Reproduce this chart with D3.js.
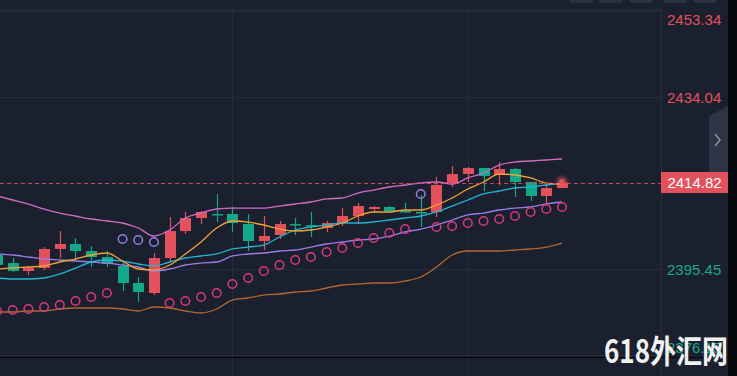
<!DOCTYPE html>
<html>
<head>
<meta charset="utf-8">
<style>
body { margin: 0; background: #1b202e; overflow: hidden; }
svg { display: block; }
.grid { stroke: #262c3b; stroke-width: 1; shape-rendering: crispEdges; }
.axisLabel { font-family: "Liberation Sans", Arial, sans-serif; font-size: 15px; }
</style>
</head>
<body>
<svg id="chart" width="737" height="376"></svg>
<script src="https://d3js.org/d3.v7.min.js"></script>
<script>
// candles (red = up, green = down)
let openP  = [2398.59,2396.79,2395.00,2395.67,2399.94,2401.06,2399.49,2398.14,2396.12,2392.31,2390.06,2397.92,2403.97,2406.89,2407.79,2407.79,2405.55,2401.73,2403.08,2405.55,2405.32,2404.65,2405.77,2407.34,2408.91,2409.36,2408.46,2408.24,2408.24,2414.52,2416.76,2418.11,2416.54,2417.89,2414.97,2411.83,2413.62];
let highP  = [2399.71,2397.92,2395.90,2400.38,2403.97,2402.40,2400.61,2399.49,2397.02,2393.65,2399.04,2407.12,2408.24,2408.46,2412.28,2409.36,2407.79,2407.34,2406.22,2406.89,2408.24,2406.22,2409.13,2410.26,2409.58,2409.58,2410.26,2412.05,2416.09,2418.56,2418.35,2418.11,2419.46,2418.11,2414.97,2414.74,2415.19];
let lowP   = [2395.67,2394.80,2394.10,2395.22,2397.92,2397.47,2395.90,2395.90,2390.51,2388.04,2389.61,2397.24,2403.30,2405.55,2405.99,2403.75,2399.49,2399.71,2402.18,2403.08,2402.63,2403.75,2405.10,2405.55,2408.24,2408.01,2408.01,2404.87,2407.12,2413.85,2414.97,2412.95,2414.30,2411.60,2410.71,2410.26,2413.62];
let closeP = [2396.35,2395.00,2395.67,2399.94,2401.06,2399.49,2398.14,2396.57,2392.31,2390.29,2397.92,2403.97,2406.89,2408.24,2407.57,2405.77,2401.73,2402.85,2405.55,2405.40,2405.15,2405.77,2407.34,2409.58,2409.36,2408.46,2408.35,2408.10,2414.30,2416.76,2418.11,2416.31,2417.89,2414.97,2411.83,2413.62,2414.82];

// indicator lines
let upperBand = [2411.83,2410.93,2410.03,2408.91,2408.01,2407.34,2406.67,2406.22,2405.77,2404.65,2402.85,2404.20,2406.89,2408.01,2408.91,2409.13,2409.13,2409.13,2409.58,2410.03,2410.48,2411.16,2411.38,2412.50,2413.17,2413.85,2414.30,2414.74,2414.97,2414.52,2415.87,2416.99,2418.78,2419.46,2419.68,2419.91,2420.13];
let midBand   = [2398.82,2398.59,2398.14,2397.69,2397.47,2397.24,2397.02,2396.79,2396.35,2395.90,2395.00,2395.45,2396.35,2396.79,2397.02,2398.37,2398.82,2399.04,2399.49,2399.71,2400.38,2401.06,2401.51,2401.96,2402.18,2402.85,2403.75,2404.42,2405.32,2406.44,2407.57,2408.01,2408.69,2409.13,2409.36,2410.03,2410.48];
let lowerBand = [2385.80,2385.80,2386.03,2386.03,2386.48,2386.70,2386.70,2386.70,2386.48,2386.03,2386.92,2386.70,2386.03,2385.58,2386.48,2388.49,2388.94,2389.61,2389.84,2390.29,2390.51,2391.19,2391.86,2392.08,2392.31,2392.31,2392.76,2393.65,2395.90,2398.59,2399.49,2399.49,2399.49,2399.71,2399.94,2400.38,2401.28];
let maFast    = [2395.45,2395.67,2395.90,2396.12,2397.02,2397.69,2398.59,2399.04,2397.24,2395.45,2395.22,2396.35,2398.82,2401.51,2404.65,2406.22,2405.99,2405.32,2404.42,2403.98,2404.20,2404.87,2405.77,2407.34,2408.24,2408.24,2408.69,2408.69,2409.81,2411.38,2413.40,2414.97,2416.76,2416.54,2415.87,2414.74,2414.52];
let maSlow    = [2393.43,2393.21,2393.21,2393.43,2394.33,2395.67,2397.02,2397.47,2397.24,2396.57,2396.12,2397.02,2397.92,2398.37,2398.82,2399.94,2400.38,2400.83,2402.63,2404.20,2404.87,2405.32,2405.77,2405.77,2405.99,2406.44,2406.89,2407.34,2408.24,2409.58,2410.93,2412.28,2412.95,2413.62,2413.85,2414.30,2414.74];
let sarValues = [2386.03,2386.25,2386.48,2386.92,2387.37,2388.27,2389.17,2390.06,2402.18,2401.96,2401.51,2387.82,2388.27,2389.17,2390.06,2392.08,2393.43,2395.00,2396.35,2397.47,2398.14,2399.26,2400.16,2401.28,2402.40,2403.53,2404.42,2412.28,2404.87,2405.10,2405.77,2406.22,2406.67,2407.34,2408.24,2408.91,2409.36];

let priceTicks = [2453.34, 2434.04, 2414.82, 2395.45, 2376.15];
let lastPrice = 2414.82;
let timeGridIdx = [15, 30];

const W = 737, H = 376;
const plotRight = 661, plotTop = 9, plotBottom = 357;
const red = "#e2515c", green = "#14a88a";

let svg = d3.select("#chart");
svg.append("rect").attr("width", W).attr("height", H).attr("fill", "#1b202e");

let xScale = d3.scalePoint()
    .domain(d3.range(closeP.length))
    .range([-3, 562]);
let yScale = d3.scaleLinear()
    .domain([2395.45, 2434.04])
    .range([269, 97]);

// grid
svg.append("line").attr("class", "grid")
    .attr("x1", 0).attr("x2", plotRight).attr("y1", plotTop + 0.5).attr("y2", plotTop + 0.5);
svg.selectAll(".hgrid")
    .data(priceTicks.filter(d => d !== lastPrice))
    .join("line")
    .attr("class", "grid hgrid")
    .attr("x1", 0).attr("x2", plotRight)
    .attr("y1", d => Math.round(yScale(d)) + 0.5)
    .attr("y2", d => Math.round(yScale(d)) + 0.5);
svg.selectAll(".vgrid")
    .data(timeGridIdx)
    .join("line")
    .attr("class", "grid vgrid")
    .attr("x1", d => Math.round(xScale(d)) + 0.5)
    .attr("x2", d => Math.round(xScale(d)) + 0.5)
    .attr("y1", plotTop).attr("y2", H);
svg.append("line").attr("class", "grid")
    .attr("x1", plotRight + 0.5).attr("x2", plotRight + 0.5)
    .attr("y1", plotTop).attr("y2", H);

// candles
let idx = d3.range(closeP.length);
let candle = svg.append("g").selectAll("g")
    .data(idx)
    .join("g")
    .attr("fill", i => closeP[i] >= openP[i] ? red : green)
    .attr("stroke", i => closeP[i] >= openP[i] ? red : green);
candle.append("line")
    .attr("x1", i => Math.round(xScale(i)) + 0.5)
    .attr("x2", i => Math.round(xScale(i)) + 0.5)
    .attr("y1", i => yScale(highP[i]))
    .attr("y2", i => yScale(lowP[i]))
    .attr("stroke-width", 1.2);
candle.append("rect")
    .attr("stroke", "none")
    .attr("x", i => Math.round(xScale(i)) - 5)
    .attr("width", 11)
    .attr("y", i => yScale(Math.max(openP[i], closeP[i])))
    .attr("height", i => Math.max(1.5, Math.abs(yScale(openP[i]) - yScale(closeP[i]))));

// indicator lines
let lineGen = d3.line()
    .x((d, i) => xScale(i))
    .y(d => yScale(d))
    .curve(d3.curveMonotoneX);
let series = [
    {values: upperBand, color: "#d06cc6"},
    {values: lowerBand, color: "#b26630"},
    {values: midBand, color: "#9a7ce6"},
    {values: maSlow, color: "#22b4d2"},
    {values: maFast, color: "#f2a233"}
];
svg.append("g").selectAll("path")
    .data(series)
    .join("path")
    .attr("d", d => lineGen(d.values))
    .attr("fill", "none")
    .attr("stroke", d => d.color)
    .attr("stroke-width", 1.3);

// SAR dots
svg.append("g").selectAll("circle")
    .data(idx)
    .join("circle")
    .attr("cx", i => xScale(i))
    .attr("cy", i => yScale(sarValues[i]))
    .attr("r", 4.3)
    .attr("fill", "none")
    .attr("stroke-width", 1.5)
    .attr("stroke", i => sarValues[i] > closeP[i] ? "#9a7ce6" : "#d8397f");

// last price dashed line + glow
let lastY = yScale(lastPrice);
svg.append("line")
    .attr("x1", 0).attr("x2", plotRight)
    .attr("y1", Math.round(lastY) + 0.5).attr("y2", Math.round(lastY) + 0.5)
    .attr("stroke", "#c64a5a")
    .attr("stroke-width", 1)
    .attr("stroke-dasharray", "4,3");
let defs = svg.append("defs");
defs.append("filter").attr("id", "glow")
    .attr("x", "-100%").attr("y", "-100%").attr("width", "300%").attr("height", "300%")
    .append("feGaussianBlur").attr("stdDeviation", 2.2);
let lastI = closeP.length - 1;
svg.append("circle")
    .attr("cx", xScale(lastI)).attr("cy", lastY - 1)
    .attr("r", 4.5).attr("fill", red).attr("opacity", 0.9)
    .attr("filter", "url(#glow)");
svg.append("circle")
    .attr("cx", xScale(lastI)).attr("cy", lastY - 1)
    .attr("r", 2.5).attr("fill", red);

// price axis labels
svg.selectAll(".axisLabel")
    .data(priceTicks.filter(d => d !== lastPrice))
    .join("text")
    .attr("class", "axisLabel")
    .attr("x", 667)
    .attr("y", d => Math.min(347, Math.max(19, yScale(d))) + 5.5)
    .attr("fill", d => d > lastPrice ? red : "#19a98d")
    .text(d => d.toFixed(2));
svg.append("rect")
    .attr("x", plotRight).attr("y", Math.round(lastY) - 11)
    .attr("width", 67).attr("height", 21)
    .attr("fill", red);
svg.append("text")
    .attr("class", "axisLabel")
    .attr("x", 694.5).attr("y", Math.round(lastY) + 5)
    .attr("text-anchor", "middle")
    .attr("fill", "#ffffff")
    .text(lastPrice.toFixed(2));

// bottom border
svg.append("line")
    .attr("x1", 0).attr("x2", 728).attr("y1", 357.5).attr("y2", 357.5)
    .attr("stroke", "#05070b");

// top toolbar stubs
svg.selectAll(".tb")
    .data([570, 599, 629, 664, 693])
    .join("rect")
    .attr("class", "tb")
    .attr("x", d => d).attr("y", -6)
    .attr("width", 23).attr("height", 9).attr("rx", 3)
    .attr("fill", "#2b3242");

// side handle
svg.append("path")
    .attr("d", "M709,116 L728,106 L728,172 L709,172 Z")
    .attr("fill", "#2e3445");
svg.append("path")
    .attr("d", "M715,134 L720,140 L715,146")
    .attr("fill", "none").attr("stroke", "#8b909c").attr("stroke-width", 1.6);

// right black strip
svg.append("rect").attr("x", 728).attr("y", 0).attr("width", 9).attr("height", H).attr("fill", "#05070b");

// watermark
svg.append("text")
    .attr("x", 604).attr("y", 363)
    .attr("textLength", 124)
    .attr("lengthAdjust", "spacingAndGlyphs")
    .attr("font-family", "'Noto Sans CJK SC', 'Noto Sans', sans-serif")
    .attr("font-weight", "bold")
    .attr("font-size", 32)
    .attr("fill", "#f0f0f0")
    .text("618外汇网");
</script>
</body>
</html>
